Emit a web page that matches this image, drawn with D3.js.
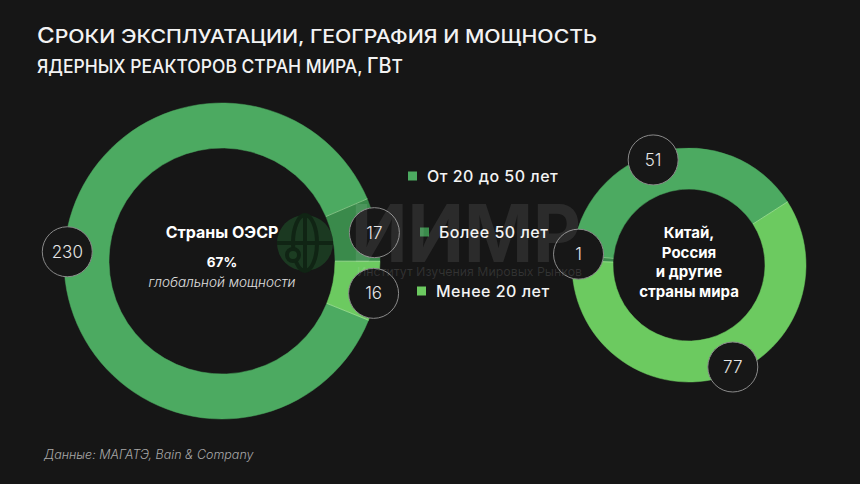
<!DOCTYPE html>
<html><head><meta charset="utf-8">
<script src="https://cdn.jsdelivr.net/npm/d3@7"></script>
<style>
html,body{margin:0;padding:0;background:#161616;}
svg{display:block;}
text{font-family:Inter,"Noto Sans",sans-serif;}
</style></head>
<body><svg id="c" width="860" height="484"></svg>
<script>
// ---- data ----
const categories = ["От 20 до 50 лет", "Более 50 лет", "Менее 20 лет"];
const oecdValues = [230, 17, 16];
const otherValues = [51, 1, 77];
const titleLines = ["Сроки эксплуатации, география и мощность", "ядерных реакторов стран мира, ГВт"];
const oecdTitle = "Страны ОЭСР";
const oecdShare = "67%";
const oecdShareLabel = "глобальной мощности";
const otherTitle = ["Китай,", "Россия", "и другие", "страны мира"];
const sourceText = "Данные: МАГАТЭ, Bain & Company";

// ---- styles ----
const colors = ["#4caa61", "#3a8a4b", "#6cca60"];
const svg = d3.select("#c");
const deg = Math.PI / 180;

svg.append("rect").attr("width", 860).attr("height", 484).attr("fill", "#161616");

// title with small caps built from tspans
const titleWidths = [560, 366];
titleLines.forEach((t, i) => {
  const tx = svg.append("text").attr("x", 37).attr("y", 43 + i * 30)
    .attr("fill", "#f3f3f3").attr("font-size", 21).attr("font-weight", 500)
    .attr("textLength", titleWidths[i]).attr("lengthAdjust", "spacingAndGlyphs");
  const runs = t.match(/([А-ЯЁA-Z]+|[^А-ЯЁA-Z]+)/g);
  runs.forEach(r => {
    const isUpper = /^[А-ЯЁA-Z]+$/.test(r);
    tx.append("tspan").attr("font-size", isUpper ? 21 : 18.5).text(r.toUpperCase());
  });
});

function donut(cfg) {
  const g = svg.append("g").attr("transform", `translate(${cfg.cx},${cfg.cy})`);
  const items = cfg.values.map((v, i) => ({ v, i }));
  const pie = d3.pie().value(d => d.v)
    .sort((a, b) => cfg.order.indexOf(a.i) - cfg.order.indexOf(b.i))
    .startAngle(cfg.start * deg).endAngle(cfg.start * deg + 2 * Math.PI);
  const arcs = pie(items);
  const arc = d3.arc().innerRadius(cfg.rIn).outerRadius(cfg.rOut);
  g.selectAll("path.seg").data(arcs).join("path").attr("class", "seg")
    .attr("d", arc).attr("fill", d => colors[d.data.i]).attr("stroke", d => colors[d.data.i]).attr("stroke-width", 0.5);
  g.selectAll("line.sep").data(arcs).join("line").attr("class", "sep")
    .attr("x1", d => cfg.rIn * Math.sin(d.startAngle)).attr("y1", d => -cfg.rIn * Math.cos(d.startAngle))
    .attr("x2", d => cfg.rOut * Math.sin(d.startAngle)).attr("y2", d => -cfg.rOut * Math.cos(d.startAngle))
    .attr("stroke", "#b8f0b0").attr("stroke-opacity", 0.55).attr("stroke-width", 1);
  const lab = g.selectAll("g.lab").data(arcs).join("g").attr("class", "lab")
    .attr("transform", d => {
      const a = (d.startAngle + d.endAngle) / 2 + (cfg.nudge[d.data.i] || 0) * deg;
      return `translate(${cfg.rLab * Math.sin(a)},${-cfg.rLab * Math.cos(a)})`;
    });
  lab.append("circle").attr("r", 25).attr("fill", "#171717").attr("stroke", "#8a8a8a").attr("stroke-width", 1);
  lab.append("text").attr("text-anchor", "middle").attr("dy", "0.36em")
    .attr("fill", "#e6e6e6").attr("font-size", 17).attr("font-weight", 300).text(d => d.data.v);
  return g;
}

const left = donut({ cx: 222, cy: 261, rIn: 113, rOut: 158, rLab: 155, start: 112,
  values: oecdValues, order: [0, 1, 2], nudge: { 0: 4, 1: 1, 2: 1 } });
const right = donut({ cx: 689, cy: 265, rIn: 76, rOut: 117, rLab: 111, start: -85,
  values: otherValues, order: [0, 2, 1], nudge: { 0: -5, 1: 2, 2: -8 } });

// center texts
left.append("text").attr("text-anchor", "middle").attr("y", -23).attr("fill", "#fff")
  .attr("font-size", 16).attr("font-weight", 700).text(oecdTitle);
left.append("text").attr("text-anchor", "middle").attr("y", 6).attr("fill", "#fff")
  .attr("font-size", 13.5).attr("font-weight", 700).text(oecdShare);
left.append("text").attr("text-anchor", "middle").attr("y", 26).attr("fill", "#e0e0e0")
  .attr("font-size", 13.5).attr("font-weight", 300).attr("font-style", "italic").text(oecdShareLabel);
otherTitle.forEach((t, i) => {
  right.append("text").attr("text-anchor", "middle").attr("y", -27 + i * 19.5).attr("fill", "#fff")
    .attr("font-size", 15).attr("font-weight", 700).text(t);
});

// legend
const legendX = [408, 420, 417];
const legendY = [176, 232, 291];
const lg = svg.append("g");
categories.forEach((c, i) => {
  lg.append("rect").attr("x", legendX[i]).attr("y", legendY[i] - 4.5).attr("width", 9).attr("height", 9).attr("fill", colors[i]);
  lg.append("text").attr("x", legendX[i] + 19).attr("y", legendY[i]).attr("dy", "0.36em")
    .attr("fill", "#f3f3f3").attr("font-size", 16).attr("font-weight", 500).attr("letter-spacing", 0.5).text(c);
});

// source
svg.append("text").attr("x", 44).attr("y", 459).attr("fill", "#a8a8a8").attr("font-size", 12.5)
  .attr("font-style", "italic").attr("font-weight", 300).text(sourceText);

// watermark (drawn on top, faint)
const wm = svg.append("g");
const gx = 305, gy = 243;
wm.append("circle").attr("cx", gx).attr("cy", gy).attr("r", 28).attr("fill", "#1c3d22").attr("fill-opacity", 0.9);
const globeLines = wm.append("g").attr("stroke", "#102414").attr("stroke-width", 4).attr("fill", "none");
globeLines.append("ellipse").attr("cx", gx).attr("cy", gy).attr("rx", 12).attr("ry", 28);
globeLines.append("line").attr("x1", gx).attr("x2", gx).attr("y1", gy - 28).attr("y2", gy + 28);
globeLines.append("line").attr("x1", gx - 28).attr("x2", gx + 28).attr("y1", gy).attr("y2", gy);
globeLines.append("circle").attr("cx", gx - 12).attr("cy", gy + 12).attr("r", 6).attr("fill", "#1c3d22");
wm.append("text").attr("x", 351).attr("y", 262).attr("font-size", 80).attr("font-weight", 700)
  .attr("fill", "#ffffff").attr("fill-opacity", 0.09).attr("textLength", 230).attr("lengthAdjust", "spacingAndGlyphs").text("ИИМР");
wm.append("text").attr("x", 357).attr("y", 276).attr("font-size", 12)
  .attr("fill", "#ffffff").attr("fill-opacity", 0.12).attr("textLength", 225).attr("lengthAdjust", "spacingAndGlyphs")
  .text("Институт Изучения Мировых Рынков");
</script></body></html>
